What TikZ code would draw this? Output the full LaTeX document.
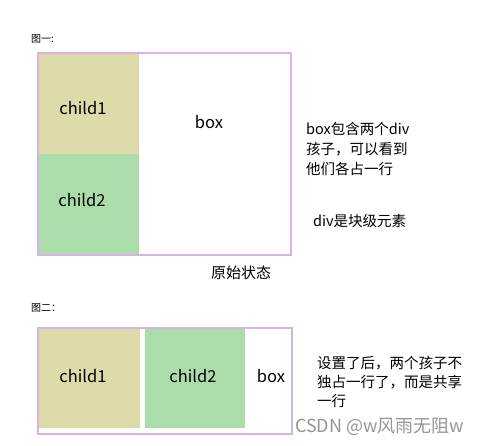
\documentclass[tikz,border=0pt]{standalone}
\usepackage{fontspec}
\setmainfont{Noto Sans CJK SC}
\definecolor{boxline}{RGB}{216,178,228}
\definecolor{childa}{RGB}{221,219,170}
\definecolor{childb}{RGB}{170,221,170}
\definecolor{wm}{RGB}{150,150,150}
\begin{document}
\begin{tikzpicture}[x=1pt,y=-1pt,
  outerbox/.style={draw=boxline,line width=2pt,fill=white},
  kid/.style={inner sep=0pt,font=\fontsize{16.5}{16}\selectfont},
  lbl/.style={inner sep=0pt,anchor=west,font=\fontsize{10}{10}\selectfont},
  note/.style={inner sep=0pt,anchor=north west,align=left,font=\fontsize{14.5}{20}\selectfont}]
\useasboundingbox[fill=white] (0,0) rectangle (488,446);
% figure 1
\node[lbl] (t1) at (31,39) {图一:};
\draw[outerbox] (38,53) rectangle (291,255);
\fill[childa] (39,54) rectangle (139,154);
\fill[childb] (39,154) rectangle (139,254);
\node[kid] (c1) at (83,108) {child1};
\node[kid] (c2) at (82,200) {child2};
\node[kid] (b1) at (209,122) {box};
\node[note] (n1) at (306,122) {box包含两个div\\孩子，可以看到\\他们各占一行};
\node[note] (n2) at (313,214) {div是块级元素};
\node[inner sep=0pt,font=\fontsize{15}{15}\selectfont] (s1) at (241,273) {原始状态};
% figure 2
\node[lbl] (t2) at (31,308) {图二：};
\draw[outerbox] (38,328) rectangle (292,434);
\fill[childa] (39,329) rectangle (140,428);
\fill[childb] (145,329) rectangle (245,428);
\node[kid] (c3) at (83,376) {child1};
\node[kid] (c4) at (193,376) {child2};
\node[kid] (b2) at (271,376) {box};
\node[note,font=\fontsize{14.5}{19}\selectfont] (n3) at (317,356) {设置了后，两个孩子不\\独占一行了，而是共享\\一行};
\node[inner sep=0pt,anchor=west,text=wm,font=\fontsize{18}{18}\selectfont] (w) at (295,427) {CSDN @w风雨无阻w};
\end{tikzpicture}
\end{document}
